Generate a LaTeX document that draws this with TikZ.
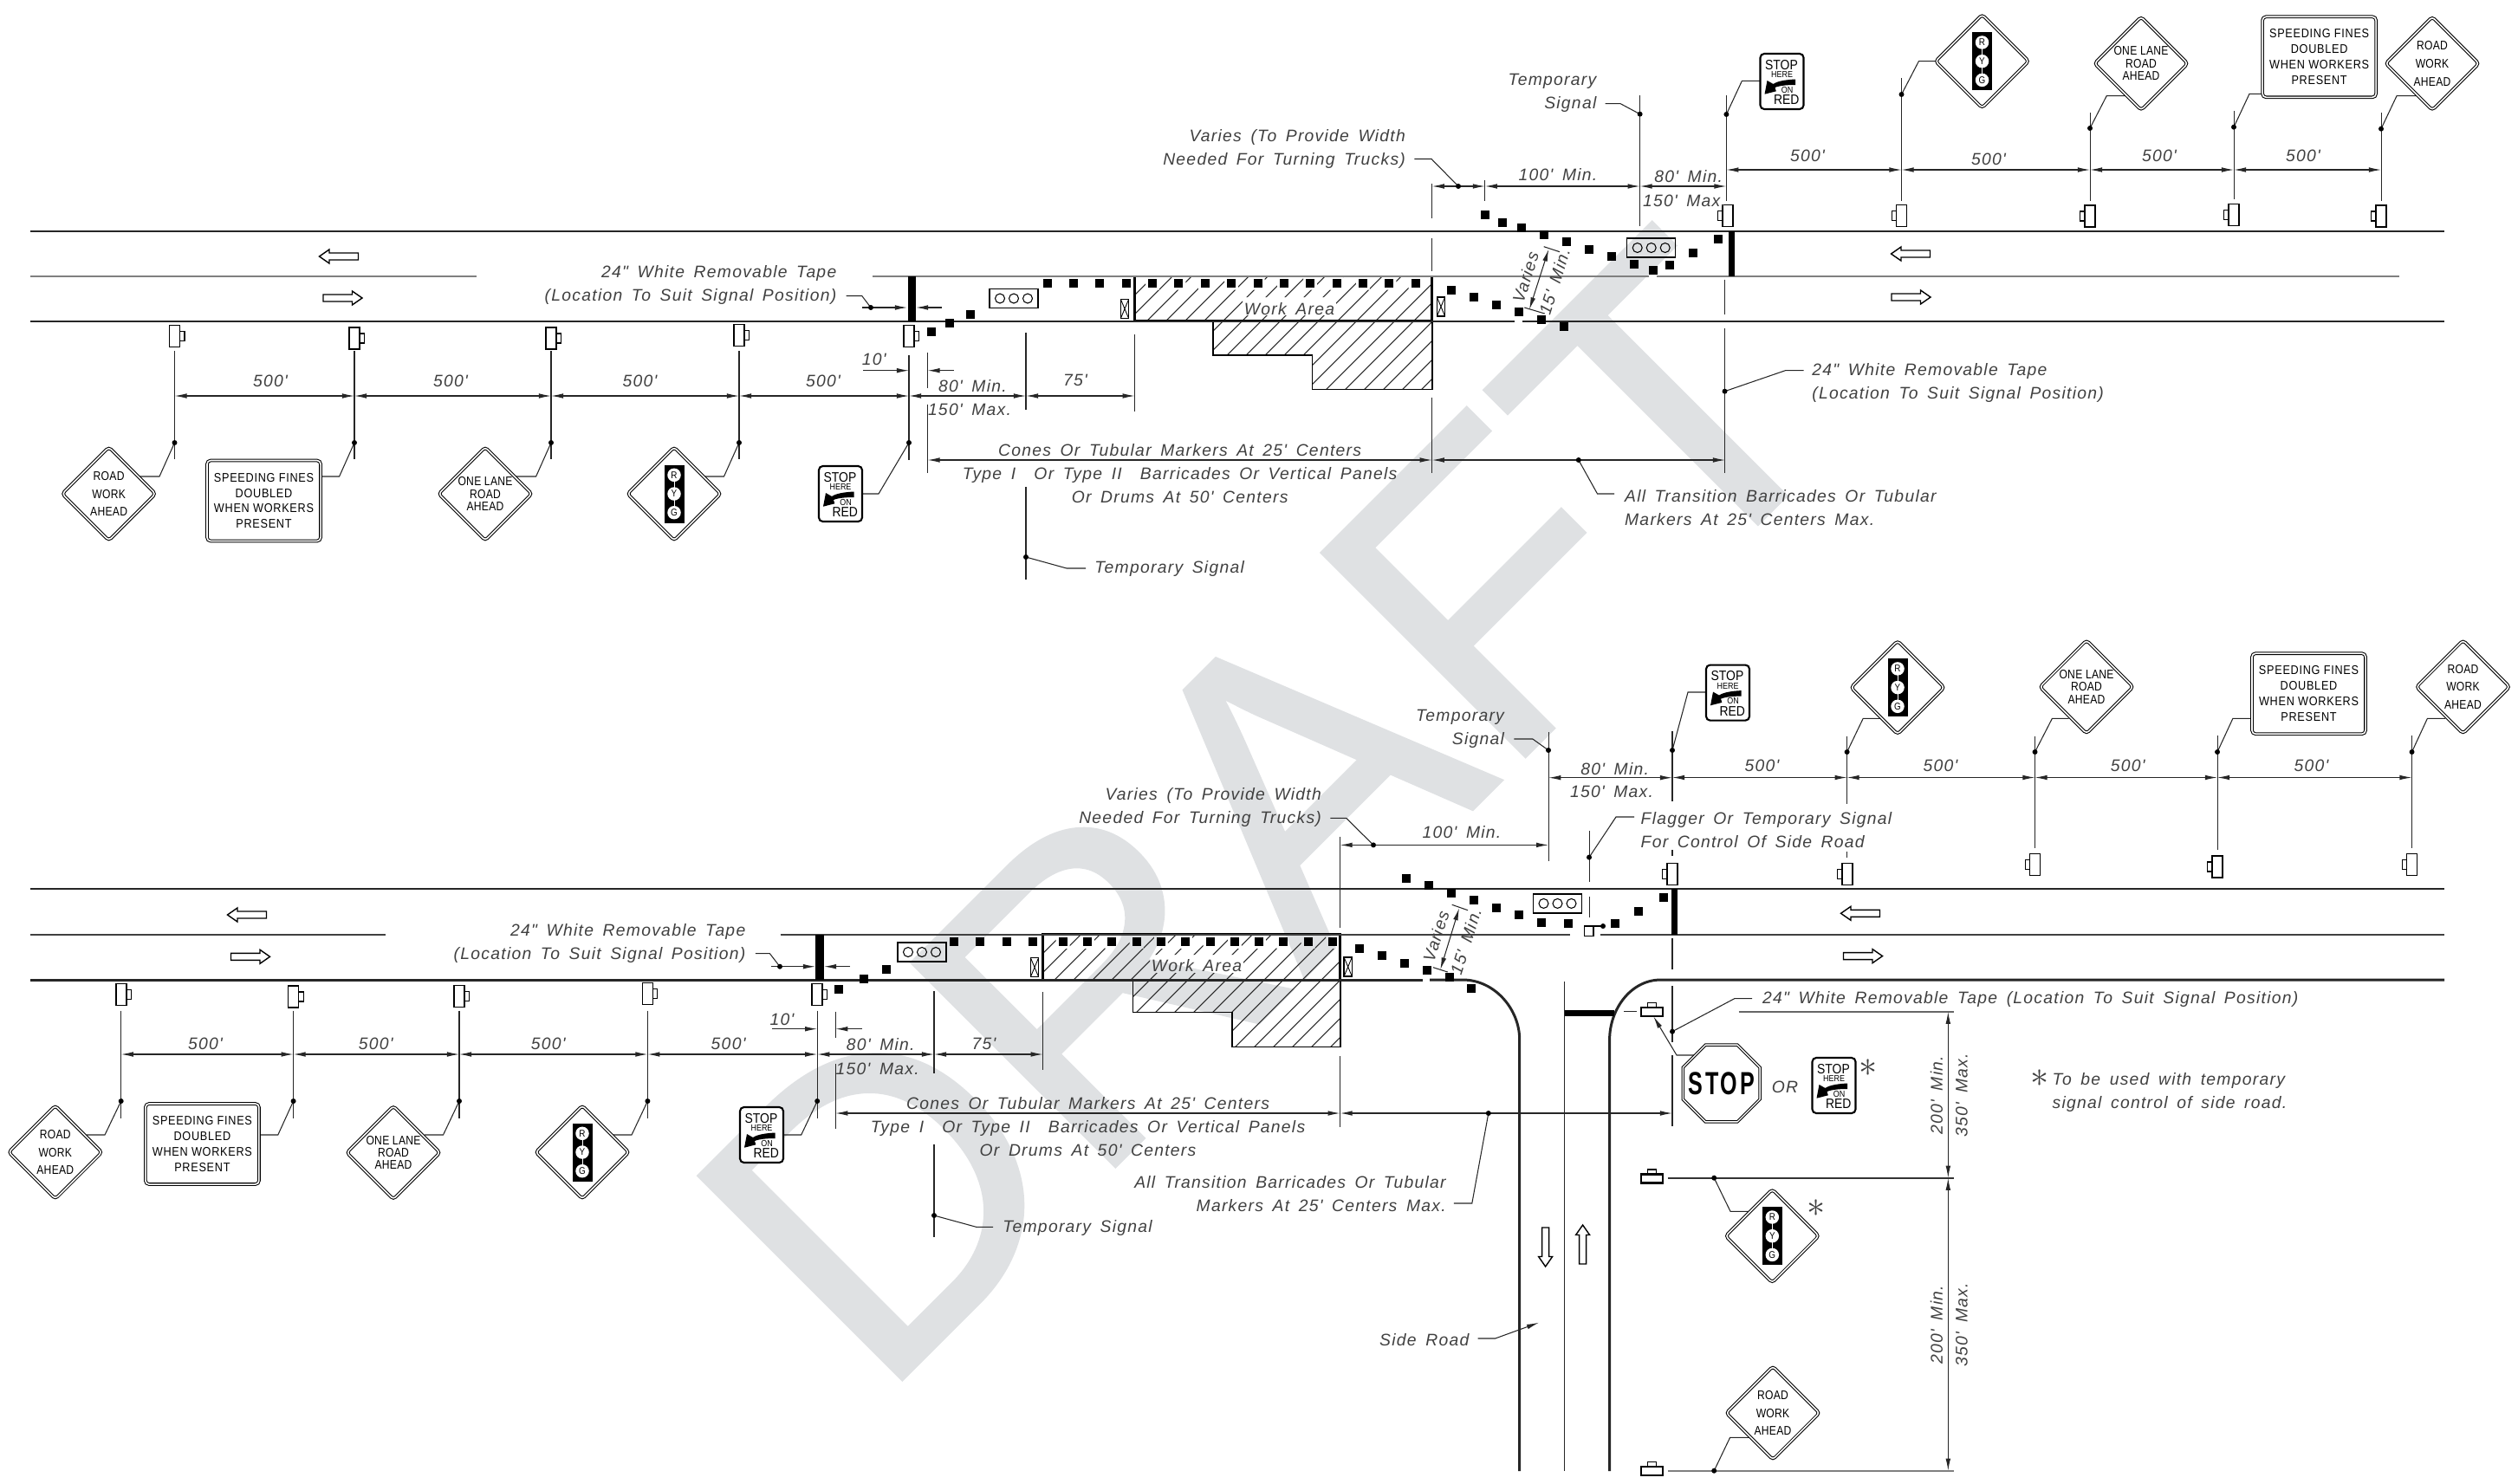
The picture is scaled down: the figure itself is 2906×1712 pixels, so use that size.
\documentclass[tikz,border=0pt]{standalone}
\usepackage{fontspec}
\usetikzlibrary{arrows.meta,shapes.geometric}
\newfontfamily\notefam[LetterSpace=6.5,WordSpace=1.6]{Liberation Sans}
\newfontfamily\signfam[FakeStretch=.84,LetterSpace=2]{Liberation Sans}
\newfontfamily\platefam[FakeStretch=.88,LetterSpace=5]{Liberation Sans}
\newfontfamily\plaquefam[FakeStretch=.88]{Liberation Sans}
\newfontfamily\stopfam[FakeStretch=.68,LetterSpace=8]{Liberation Sans}
\newfontfamily\draftfam[FakeBold=1]{Liberation Sans}
\newcommand{\notesize}{\notefam\itshape\fontsize{5.5}{7.7}\selectfont}
\newcommand{\signsize}{\signfam\fontsize{4.1}{5}\selectfont}
\newcommand{\platesize}{\platefam\fontsize{4.1}{5.1}\selectfont}
\definecolor{draftgrey}{HTML}{DFE1E3}
\begin{document}
\begin{tikzpicture}[x=.01cm,y=-.01cm,
  note/.style={font=\notesize,text=black!75,inner sep=0,align=center,yshift=-.5pt},
  edgeline/.style={line width=.6pt,black!85},
  shoulder/.style={line width=.85pt,black!85},
  lane/.style={line width=.8pt,black!50},
  ext/.style={line width=.3pt,black!85},
  dim/.style={line width=.3pt,black!85,{Latex[length=4pt,width=1.6pt]}-{Latex[length=4pt,width=1.6pt]}},
  dimto/.style={line width=.3pt,black!85,-{Latex[length=4pt,width=1.6pt]}},
  leader/.style={line width=.3pt,black!85},
  hatch/.style={line width=.3pt,black!85},
  diamond sign/.style={diamond,aspect=1,draw,line width=.3pt,double,double distance=.45pt,rounded corners=1pt,
    fill=white,minimum width=1.08cm,minimum height=1.08cm,inner sep=0,align=center,font=\signsize},
  plate sign/.style={rectangle,draw,line width=.3pt,double,double distance=.45pt,rounded corners=1.2pt,
    fill=white,minimum width=1.31cm,minimum height=.93cm,inner sep=0,align=center,font=\platesize},
  stop sign/.style={regular polygon,regular polygon sides=8,draw,line width=.3pt,double,double distance=.4pt,
    fill=white,minimum size=.96cm,inner sep=0},
  stop text/.style={inner sep=0,font=\stopfam\bfseries\fontsize{10.5}{10.5}\selectfont},
  star/.style={inner sep=0,text=black!75,font=\fontsize{12}{12}\selectfont},
  lamp/.style={circle,fill=white,minimum size=.155cm,inner sep=0,font=\plaquefam\fontsize{3.2}{3.2}\selectfont},
  plaque/.style={inner sep=0,font=\plaquefam\fontsize{4.5}{4.5}\selectfont},
  small plaque/.style={inner sep=0,font=\plaquefam\fontsize{2.9}{2.9}\selectfont},
  cone/.pic={\fill (-5,-5) rectangle (5,5);},
  worklight/.pic={\draw[line width=.35pt] (-28,-11) rectangle (28,11);
    \foreach \cx in {-16,0,16} {\draw[line width=.3pt] (\cx,0) circle (5.5);}},
  barricade/.pic={\draw[line width=.4pt] (-4.6,-11) rectangle (4.6,11);
    \draw[line width=.25pt] (-4.6,-11) -- (4.6,11) (4.6,-11) -- (-4.6,11);},
  roadpost/.pic={\draw[line width=.5pt,fill=white] (-6,-12.5) rectangle (6,12.5);
    \draw[line width=.3pt] (6,-5.5) rectangle (11.5,5.5);},
  sidepost/.pic={\draw[line width=.6pt] (-12.5,-5) rectangle (12.5,5);
    \draw[line width=.3pt] (-5,-5) -- (-5,-10.5) -- (5,-10.5) -- (5,-5);},
  lane arrow/.pic={\draw[line width=.4pt,fill=white] (-22.5,-4) -- (11,-4) -- (11,-8) -- (22.5,0)
    -- (11,8) -- (11,4) -- (-22.5,4) -- cycle;},
  ryg sign/.pic={\node[diamond sign] (-face) at (0,0) {};
    \fill (-11.5,-33.5) rectangle (11.5,33.5);
    \draw[white,line width=.15pt] (0,-21.7) -- (0,21.7);
    \foreach \lt/\ly in {R/-21.7,Y/0,G/21.7} {\node[lamp] (-\lt) at (0,\ly) {\lt};}},
  here sign/.pic={\draw[line width=.6pt,rounded corners=1.3pt,fill=white] (-25,-32) rectangle (25,32);
    \node[plaque] (-stop) at (-.5,-19.3) {STOP};
    \node[small plaque] (-here) at (0,-7.7) {HERE};
    \fill (15.7,-2.5) .. controls (5,-2) and (-5,-.5) .. (-10,3) -- (-17,-1) -- (-20,14.7) -- (-6.7,11.3) -- (-8,7)
      .. controls (-2,4.5) and (8,4) .. (15.7,4) -- cycle;
    \node[small plaque] (-on) at (6,9.5) {ON};
    \node[plaque] (-red) at (5.3,21) {RED};}]
\useasboundingbox (0,0) rectangle (2906,1712);

% watermark
\node[inner sep=0,anchor=base west,rotate=45,text=draftgrey,font=\draftfam\fontsize{137}{137}\selectfont] (draft) at (1013,1620) {DRAFT};

% hatched work areas
\begin{scope}[even odd rule]
  \clip (1309.7,319) -- (1652.7,319) -- (1652.7,449.6) -- (1514.5,449.6) -- (1514.5,410) -- (1400,410) -- (1400,370.5) -- (1309.7,370.5) -- cycle
    (1434,343) rectangle (1542,364)
    \foreach \ci in {4,...,14} {({1208.7+30.35*\ci-8},318.5) rectangle ({1208.7+30.35*\ci+8},334.5)};
  \foreach \hx in {1178,1200,...,1660} {\draw[hatch] (\hx,450) -- ++(131,-131);}
\end{scope}
\begin{scope}[even odd rule]
  \clip (1203.6,1078.2) -- (1546.6,1078.2) -- (1546.6,1208.6) -- (1421.7,1208.6) -- (1421.7,1168.6) -- (1307.4,1168.6) -- (1307.4,1131) -- (1203.6,1131) -- cycle
    (1327,1102) rectangle (1435,1123)
    \foreach \ci in {0,...,11} {({1226.7+28.3*\ci-8},1079) rectangle ({1226.7+28.3*\ci+8},1095)};
  \foreach \hx in {1073,1095,...,1553} {\draw[hatch] (\hx,1209) -- ++(131,-131);}
\end{scope}
\draw[line width=.7pt] (1309.7,319) rectangle (1652.7,370.5);
\draw[line width=.5pt] (1400,370.5) -- (1400,410) -- (1514.5,410) -- (1514.5,449.6) -- (1652.7,449.6) -- (1652.7,370.5);
\draw[line width=.7pt] (1203.6,1078.2) rectangle (1546.6,1131);
\draw[line width=.5pt] (1307.4,1131) -- (1307.4,1168.6) -- (1421.7,1168.6) -- (1421.7,1208.6) -- (1546.6,1208.6) -- (1546.6,1131);
\node[note] (work1) at (1488,354.5) {Work Area};
\node[note] (work2) at (1381,1113) {Work Area};

% upper road
\draw[edgeline] (35,267) -- (2821,267);
\draw[lane] (35,319) -- (550,319) (1007,319) -- (1903,319) (1912,319) -- (2769,319);
\draw[shoulder] (35,371) -- (1748,371) (1757,371) -- (2821,371);
% lower road and side road
\draw[edgeline] (35,1026) -- (2821,1026);
\draw[line width=.6pt,black!75] (35,1079) -- (444.5,1079) (900.5,1079) -- (1811.7,1079) (1846.7,1079) -- (2821,1079);
\draw[shoulder] (35,1131) -- (1641.7,1131);
\draw[shoulder] (1650,1131) -- (1688,1131) .. controls (1725,1131) and (1753.7,1165) .. (1753.7,1200) -- (1753.7,1698);
\draw[shoulder] (1857.6,1698) -- (1857.6,1200) .. controls (1857.6,1165) and (1882,1131) .. (1916.7,1131) -- (2821,1131);
\draw[ext] (1805.4,1133) -- (1805.4,1698);
\fill (1805.7,1166) rectangle (1863,1173.3);
\draw[ext] (1874,1167.3) -- (1889,1167.3);

% tape bars
\foreach \ax/\ay/\bx/\by in {1047.5/319/1056.5/371,1995/267/2002/319,940.7/1079/950.9/1131,1929/1026/1935.7/1079} {
  \fill (\ax,\ay) rectangle (\bx,\by);
}

% lane arrows
\foreach \ax/\ay in {391/296,2205/293,285/1056,2147/1054.3} {\path (\ax,\ay) pic[rotate=180] {lane arrow};}
\foreach \ax/\ay in {395.5/344,2205.5/343,289/1104.3,2150/1103.6} {\path (\ax,\ay) pic {lane arrow};}
\path (1783.6,1439.5) pic[rotate=-90] {lane arrow};
\path (1826.6,1436.5) pic[rotate=90] {lane arrow};

% cones
\foreach \ax/\ay in {1075/383,1096.4/372.8,1120.3/363,1675/334.7,1701/343.3,1727/351.7,1753.3/360.3,1779.3/368.7,1805.3/377,
  1714.3/247.7,1734/257.3,1755.7/262.7,1781.7/271,1807.7/279.3,1833.7/288,1859.7/296.3,1885.7/305,1908/312.3,1927.3/306,1953.7/292,1983/276.3,
  967.9/1141.8,997.3/1130,1022.6/1118.6,1569/1094.7,1595/1103.3,1621/1111.7,1647/1120,1673/1128.3,1698.3/1140.7,
  1623.3/1014,1649.3/1022.3,1675.3/1031,1701.3/1039.3,1727.3/1048,1753.3/1056.3,1779.3/1065,1810.3/1066.3,1864.3/1065.7,1891/1052,1920/1036.3} {
  \path (\ax,\ay) pic {cone};
}
\foreach \ci in {0,...,14} {\path ({1208.7+30.35*\ci},326.5) pic {cone};}
\foreach \ci in {0,...,3} {\path ({1101+30.4*\ci},1087) pic {cone};}
\foreach \ci in {0,...,11} {\path ({1226.7+28.3*\ci},1087) pic {cone};}

% lights, barricades, flagger
\foreach \ax/\ay in {1170/344.5,1905.7/286,1064/1099,1797.5/1042.9} {\path (\ax,\ay) pic {worklight};}
\foreach \ax/\ay in {1298/356.5,1663/354,1194/1116.6,1555.7/1116} {\path (\ax,\ay) pic {barricade};}
\draw[line width=.35pt] (1828.3,1069) -- (1828.3,1080.3) -- (1839,1080.3) -- (1839,1069);
\draw[line width=.35pt] (1828.3,1069) -- (1850,1069);
\fill (1850,1069) circle (3);

% posts
\foreach \ax/\ay in {201.5/388,409/390.5,636/390.5,853/387,1049/388,139.7/1148,338.6/1150.5,530/1150,747.4/1147,943.2/1148} {
  \path (\ax,\ay) pic {roadpost};
}
\foreach \ax/\ay in {1993.7/249,2194.5/249,2412/249.5,2578/248,2748/249.5,1930/1009,2131.6/1009,2348.5/998,2559/1000.5,2783.5/998} {
  \path (\ax,\ay) pic[rotate=180] {roadpost};
}
\foreach \ay in {1168,1360.5,1697.6} {\path (1906.5,\ay) pic {sidepost};}

% extension lines
\foreach \ax/\ay/\by in {201.5/405/530,409/405/530,636/405/530,853/405/530,1049/410/531,
  1070.5/407/448,1070.5/466.5/545.5,1184/384/473,1184/562/669,1309.7/386/475,
  1652.7/212/252,1652.7/274.5/312.5,1652.7/458.5/545.5,1713.8/207.6/232,1892.6/110/261,
  1992.4/110/231.7,2194.5/90/231.7,2412/130/231.7,2578/128.3/230,2748/130/231.7,
  1990.5/322.7/363.3,1990.5/379/545.5,
  139.7/1166.7/1290.7,338.6/1166.7/1290.7,530/1166.7/1290.7,747.4/1166.7/1290.7,943.2/1166.7/1290.7,
  964.3/1167.5/1198,964.3/1228/1303,1078/1144/1239,1078/1321/1428,1203.6/1145/1235,
  1546.6/965.7/1071,1546.6/1219/1300.7,1787.2/845/994,1834.3/959/1017.5,1834.3/1035/1059,
  1930/843.6/925,1930/981/988,1930/1083/1119,1930/1138/1203,1930/1218/1300,
  2131.6/849.6/927.5,2131.6/983/990,2348.5/849.6/978.6,2559/849/981,2783.5/849/978.6} {
  \draw[ext] (\ax,\ay) -- (\ax,\by);
}
\draw[line width=.5pt,black!60] (2006.7,1167.7) -- (2255,1167.7);
\draw[line width=.6pt,black!80] (1924.8,1359.7) -- (2255,1359.7);
\draw[line width=.6pt,black!50] (1924.8,1697.7) -- (2255,1697.7);

% dimensions
\foreach \ax/\bx/\ay in {201.5/409/457,409/636/457,636/853/457,853/1049/457,1049/1184/457,1184/1309.7/457,
  1070.5/1652.7/531,1652.7/1991/531,1652.7/1713.8/215,1713.8/1892.6/215,1892.6/1992.4/215,
  1992.4/2194.5/196,2194.5/2412/196,2412/2578/196,2578/2748/196,
  139.7/338.6/1217,338.6/530/1217,530/747.4/1217,747.4/943.2/1217,943.2/1078/1217,1078/1203.6/1217,
  964.3/1546.6/1285,1546.6/1930/1285,1546.6/1787.2/975.4,1787.2/1930/897.7,
  1930/2131.6/897.5,2131.6/2348.5/897.5,2348.5/2559/897.5,2559/2783.5/897.5} {
  \draw[dim] (\ax,\ay) -- (\bx,\ay);
}
\draw[dim] (2248.3,1167.7) -- (2248.3,1359.7);
\draw[dim] (2248.3,1359.7) -- (2248.3,1697.7);
\foreach \ax/\bx/\ay in {996/1049/427.7,1100.6/1070.5/427.7,891/943.2/1187.7,995/964.3/1187.7,
  995/1047/355,1087/1057/355,889.7/941/1115.7,981/951/1115.7} {
  \draw[dimto] (\ax,\ay) -- (\bx,\ay);
}
\draw[dim] (1787.3,287.7) -- (1765,357.3);
\draw[ext] (1781.7,284.7) -- (1800,290.7) (1759.3,355) -- (1782.7,362);
\draw[dim] (1684,1048.3) -- (1662.3,1119.3);
\draw[ext] (1675.7,1044.3) -- (1694,1050.7) (1654,1116.7) -- (1670.7,1122);

% leaders with their dots
\foreach \ax/\ay/\bx/\by/\cx/\cy in {201.5/511/184/550/160/550,409/511/391.6/550/371/550,636/511/618.6/550/595/550,853/511/835.5/550/813/550,
  1049/511/1014/570/995/570,1992.4/132/2010.4/93.3/2031.5/93.3,2194.5/109/2214.4/70.7/2233.6/70.7,2412/148/2431.2/110.7/2455/110.7,
  2578/146.7/2596/108.3/2610/108.3,2748/148.7/2766/110.7/2790/110.7,1184/643/1231/656/1253/656,1005/355/994.7/341.5/976.5/341.5,
  1683/215/1652/183.5/1632.4/183.5,1892.6/131.7/1870/119.6/1852.7/119.6,1990.5/451.7/2060.4/427.7/2081.6/427.7,1821.8/531/1843.5/570/1863/570,
  139.7/1271/121/1310/100/1310,338.6/1271/320.8/1310/299.7/1310,530/1271/511.5/1310/490/1310,747.4/1271/729/1310/708/1310,943.2/1271/924.7/1310/904/1310,
  1930/866/1948/799/1968.7/799,2131.6/868/2150.2/829.3/2169.5/829.3,2348.5/868/2368.4/829.3/2387.6/829.3,2559/868/2576.9/829.3/2598/829.3,2783.5/868/2801.4/829.3/2822/829.3,
  1078/1403/1127/1416.4/1146/1416.4,900/1115.7/888.4/1100.7/871.8/1100.7,1585/975.4/1553.6/944.3/1535.4/944.3,1787/866/1768.8/853/1747.3/853,
  1834/989.6/1865/943/1886/943,1930/1190.7/2001.7/1152.7/2022/1152.7,1717.8/1285/1698.8/1389/1677.8/1389,
  1978.2/1359.7/1997/1398.3/2020/1398.3,1978.2/1697.7/1996.6/1659.3/2020/1659.3} {
  \draw[leader] (\ax,\ay) -- (\bx,\by) -- (\cx,\cy);
  \fill (\ax,\ay) circle (3);
}
\draw[dimto] (1955,1218) -- (1935,1218) -- (1908.3,1173.3);
\draw[dimto] (1705.5,1545) -- (1725.6,1545) -- (1776,1526.7);

% signs
\node[diamond sign] (work1a) at (125.6,570) {ROAD\\[.9pt]WORK\\[.9pt]AHEAD};
\node[plate sign] (fines1) at (304.5,578) {SPEEDING FINES\\DOUBLED\\WHEN WORKERS\\PRESENT};
\node[diamond sign] (lane1) at (560,570) {ONE LANE\\[-.9pt]ROAD\\[-.9pt]AHEAD};
\pic (ryg1) at (778,570) {ryg sign};
\pic (here1) at (970,570) {here sign};
\pic (here2) at (2056.5,94) {here sign};
\pic (ryg2) at (2287.5,70.7) {ryg sign};
\node[diamond sign] (lane2) at (2471,73.3) {ONE LANE\\[-.9pt]ROAD\\[-.9pt]AHEAD};
\node[plate sign] (fines2) at (2676.6,65.8) {SPEEDING FINES\\DOUBLED\\WHEN WORKERS\\PRESENT};
\node[diamond sign] (work2a) at (2807,73.3) {ROAD\\[.9pt]WORK\\[.9pt]AHEAD};
\node[diamond sign] (work3a) at (63.8,1330) {ROAD\\[.9pt]WORK\\[.9pt]AHEAD};
\node[plate sign] (fines3) at (233.4,1320.5) {SPEEDING FINES\\DOUBLED\\WHEN WORKERS\\PRESENT};
\node[diamond sign] (lane3) at (454,1330.5) {ONE LANE\\[-.9pt]ROAD\\[-.9pt]AHEAD};
\pic (ryg3) at (672,1330) {ryg sign};
\pic (here3) at (879,1310) {here sign};
\pic (here4) at (1994,799.6) {here sign};
\pic (ryg4) at (2190,793.6) {ryg sign};
\node[diamond sign] (lane4) at (2408,792.9) {ONE LANE\\[-.9pt]ROAD\\[-.9pt]AHEAD};
\node[plate sign] (fines4) at (2664.5,800.7) {SPEEDING FINES\\DOUBLED\\WHEN WORKERS\\PRESENT};
\node[diamond sign] (work4a) at (2842.5,792.9) {ROAD\\[.9pt]WORK\\[.9pt]AHEAD};
\node[stop sign] (stop1) at (1986.7,1250.5) {};
\node[stop text] (stopword) at (1986.7,1250.5) {STOP};
\pic (here5) at (2116.5,1253) {here sign};
\pic (ryg5) at (2045.3,1426.7) {ryg sign};
\node[diamond sign] (work5a) at (2046,1631) {ROAD\\[.9pt]WORK\\[.9pt]AHEAD};

% dimension labels
\foreach \ax/\ay [count=\ni] in {312/438,520/438,738.5/438,950/438,2086/178,2295/182,2492/178,2658/178,
  237/1202.7,433.7/1202.7,632.7/1202.7,840.6/1202.7,2033.5/881.8,2239.4/881.8,2455.6/881.8,2667.4/881.8} {
  \node[note] (five\ni) at (\ax,\ay) {500'};
}
\foreach \ax/\ay [count=\ni] in {1122.4/443.8,1948.7/202,1016.3/1204.3,1863.7/885.4} {\node[note] (eighty\ni) at (\ax,\ay) {80' Min.};}
\foreach \ax/\ay [count=\ni] in {1119/471.4,1944/230,1012.7/1231.8,1860/912} {\node[note] (onefifty\ni) at (\ax,\ay) {150' Max.};}
\foreach \ax/\ay [count=\ni] in {1798/200,1687/959.3} {\node[note] (hundred\ni) at (\ax,\ay) {100' Min.};}
\foreach \ax/\ay [count=\ni] in {1241/437.5,1135.5/1203} {\node[note] (seventyfive\ni) at (\ax,\ay) {75'};}
\foreach \ax/\ay [count=\ni] in {1008.7/413,902.4/1175} {\node[note] (ten\ni) at (\ax,\ay) {10'};}
\foreach \ax/\ay [count=\ni] in {1760.7/318.3,1657.3/1079} {\node[note,rotate=72.5] (varies\ni) at (\ax,\ay) {Varies};}
\foreach \ax/\ay [count=\ni] in {1794/323.3,1691.7/1085} {\node[note,rotate=72.5] (fifteen\ni) at (\ax,\ay) {15' Min.};}
\foreach \ay [count=\ni] in {1262.5,1527.5} {
  \node[note,rotate=90] (twohundred\ni) at (2235,\ay) {200' Min.};
  \node[note,rotate=90] (threefifty\ni) at (2264,\ay) {350' Max.};
}

% notes
\node[note,align=right,anchor=east] (tape1) at (966,327) {24" White Removable Tape\\(Location To Suit Signal Position)};
\node[note,align=right,anchor=east] (tape2) at (861,1087) {24" White Removable Tape\\(Location To Suit Signal Position)};
\node[note,align=left,anchor=west] (tape3) at (2090.6,440) {24" White Removable Tape\\(Location To Suit Signal Position)};
\node[note,anchor=west] (tape4) at (2033.3,1151.7) {24" White Removable Tape (Location To Suit Signal Position)};
\node[note,align=right,anchor=east] (wide1) at (1622.6,170) {Varies (To Provide Width\\Needed For Turning Trucks)};
\node[note,align=right,anchor=east] (wide2) at (1525.6,930.3) {Varies (To Provide Width\\Needed For Turning Trucks)};
\node[note,align=right,anchor=east] (temp1) at (1843,105.7) {Temporary\\Signal\hspace{1.8pt}};
\node[note,align=right,anchor=east] (temp2) at (1736.6,840) {Temporary\\Signal\hspace{1.8pt}};
\node[note,anchor=west] (temp3) at (1262.7,655) {Temporary Signal};
\node[note,anchor=west] (temp4) at (1156.6,1415.7) {Temporary Signal};
\node[note] (cones1) at (1361.6,545) {Cones Or Tubular Markers At 25' Centers\\Type I\ \ Or Type II\ \ Barricades Or Vertical Panels\\Or Drums At 50' Centers};
\node[note] (cones2) at (1255.5,1299) {Cones Or Tubular Markers At 25' Centers\\Type I\ \ Or Type II\ \ Barricades Or Vertical Panels\\Or Drums At 50' Centers};
\node[note,align=left,anchor=west] (trans1) at (1874.4,584) {All Transition Barricades Or Tubular\\Markers At 25' Centers Max.};
\node[note,align=right,anchor=east] (trans2) at (1669.4,1376) {All Transition Barricades Or Tubular\\Markers At 25' Centers Max.};
\node[note,align=left,anchor=west] (flag1) at (1893,956) {Flagger Or Temporary Signal\\For Control Of Side Road};
\node[note,anchor=east] (side1) at (1696,1545) {Side Road};
\node[note] (or1) at (2060,1253.3) {OR};
\node[star] (star1) at (2156,1232.7) {$\ast$};
\node[star] (star2) at (2095.9,1394.3) {$\ast$};
\node[star] (star3) at (2354,1245) {$\ast$};
\node[note,align=left,anchor=west] (useonly) at (2368,1259) {To be used with temporary\\signal control of side road.};
\end{tikzpicture}
\end{document}
